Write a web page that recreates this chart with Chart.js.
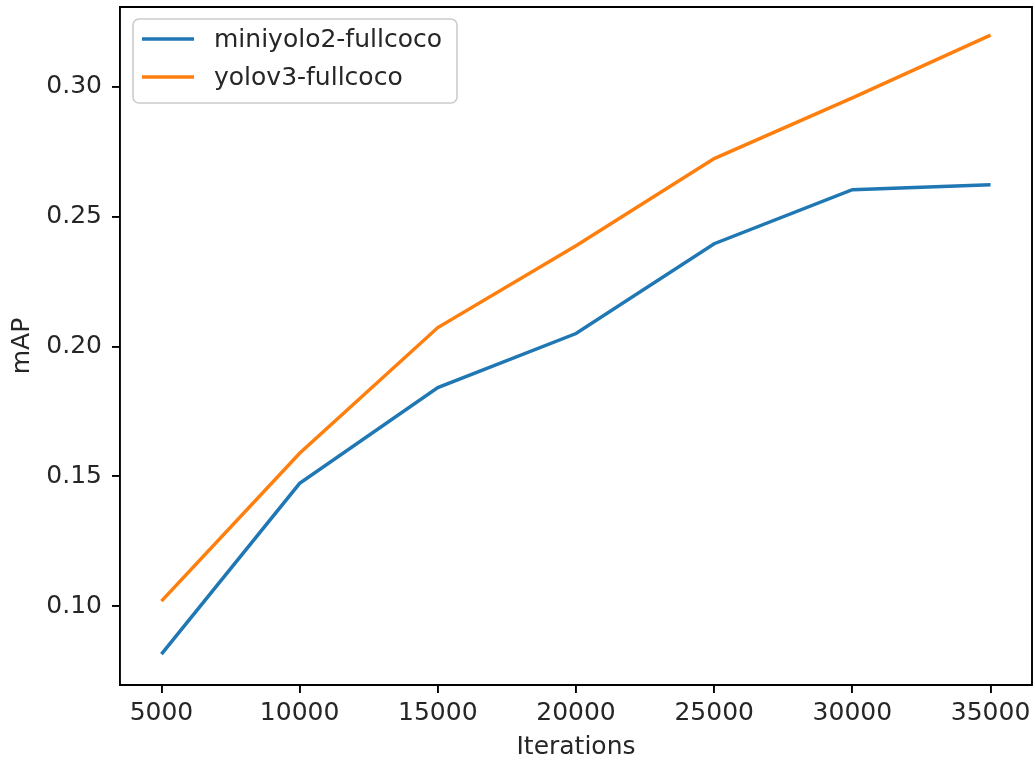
<!DOCTYPE html>
<html>
<head>
<meta charset="utf-8">
<script src="https://cdn.jsdelivr.net/npm/chart.js@4.4.0/dist/chart.umd.min.js"></script>
<style>
html,body{margin:0;padding:0;background:#fff;}
canvas{display:block;}
</style>
</head>
<body>
<canvas id="c" width="1035" height="762"></canvas>
<script>
const iterations = [5000, 10000, 15000, 20000, 25000, 30000, 35000];
const miniyolo2 = [0.0815, 0.1473, 0.1842, 0.2050, 0.2396, 0.2604, 0.2623];
const yolov3 = [0.1019, 0.1589, 0.2073, 0.2388, 0.2724, 0.2958, 0.3200];
const xTicks = [5000, 10000, 15000, 20000, 25000, 30000, 35000];
const yTicks = [0.10, 0.15, 0.20, 0.25, 0.30];
const seriesNames = ['miniyolo2-fullcoco', 'yolov3-fullcoco'];
const seriesColors = ['#1f77b4', '#ff7f0e'];

const FONT = 'DejaVu Sans';
const FS = 25;

const toPts = (xs, ys) => xs.map((x, i) => ({x: x, y: ys[i]}));

const framePlugin = {
  id: 'frame',
  afterDraw(chart) {
    const ca = chart.chartArea;
    const ctx = chart.ctx;
    ctx.save();
    ctx.strokeStyle = '#000';
    ctx.lineWidth = 1.9;
    ctx.beginPath();
    ctx.moveTo(ca.left, ca.top);
    ctx.lineTo(ca.right, ca.top);
    ctx.lineTo(ca.right, ca.bottom);
    ctx.stroke();
    ctx.restore();
  }
};

const legendPlugin = {
  id: 'mplLegend',
  afterDatasetsDraw(chart) {
    const ctx = chart.ctx;
    const ca = chart.chartArea;
    const x0 = ca.left + 13, y0 = ca.top + 12, w = 324, h = 84, r = 6;
    ctx.save();
    ctx.beginPath();
    ctx.moveTo(x0 + r, y0);
    ctx.lineTo(x0 + w - r, y0);
    ctx.arcTo(x0 + w, y0, x0 + w, y0 + r, r);
    ctx.lineTo(x0 + w, y0 + h - r);
    ctx.arcTo(x0 + w, y0 + h, x0 + w - r, y0 + h, r);
    ctx.lineTo(x0 + r, y0 + h);
    ctx.arcTo(x0, y0 + h, x0, y0 + h - r, r);
    ctx.lineTo(x0, y0 + r);
    ctx.arcTo(x0, y0, x0 + r, y0, r);
    ctx.closePath();
    ctx.fillStyle = 'rgba(255,255,255,0.8)';
    ctx.fill();
    ctx.strokeStyle = '#cccccc';
    ctx.lineWidth = 1.6;
    ctx.stroke();
    ctx.font = FS + 'px "' + FONT + '"';
    ctx.textBaseline = 'middle';
    ctx.textAlign = 'left';
    chart.data.datasets.forEach((ds, i) => {
      const yy = y0 + 20 + i * 38;
      ctx.strokeStyle = ds.borderColor;
      ctx.lineWidth = 3.5;
      ctx.beginPath();
      ctx.moveTo(x0 + 9, yy);
      ctx.lineTo(x0 + 61, yy);
      ctx.stroke();
      ctx.fillStyle = '#262626';
      ctx.fillText(ds.label, x0 + 81, yy + 1);
    });
    ctx.restore();
  }
};

new Chart(document.getElementById('c'), {
  type: 'line',
  data: {
    datasets: [
      {label: seriesNames[0], data: toPts(iterations, miniyolo2), borderColor: seriesColors[0], backgroundColor: seriesColors[0], borderWidth: 3.5, pointRadius: 0, tension: 0, fill: false},
      {label: seriesNames[1], data: toPts(iterations, yolov3), borderColor: seriesColors[1], backgroundColor: seriesColors[1], borderWidth: 3.5, pointRadius: 0, tension: 0, fill: false}
    ]
  },
  options: {
    responsive: false,
    animation: false,
    layout: {padding: {left: 0, right: 3, top: 7, bottom: 0}},
    plugins: {legend: {display: false}, tooltip: {enabled: false}},
    scales: {
      x: {
        type: 'linear',
        min: 3500,
        max: 36500,
        afterBuildTicks(s) { s.ticks = xTicks.map(v => ({value: v})); },
        afterFit(s) { s.height = 77; s.paddingLeft = 0; s.paddingRight = 0; },
        grid: {drawOnChartArea: false, drawTicks: true, tickLength: 8, color: '#000', lineWidth: 1.9},
        border: {display: true, color: '#000', width: 1.9},
        ticks: {color: '#262626', font: {family: FONT, size: FS}, padding: 5, maxRotation: 0, autoSkip: false, callback: v => String(v)},
        title: {display: true, text: 'Iterations', color: '#262626', font: {family: FONT, size: FS}, padding: {top: 0, bottom: 0}}
      },
      y: {
        type: 'linear',
        min: 0.0696,
        max: 0.3308,
        afterBuildTicks(s) { s.ticks = yTicks.map(v => ({value: v})); },
        afterFit(s) { s.width = 120; s.paddingTop = 0; s.paddingBottom = 0; },
        grid: {drawOnChartArea: false, drawTicks: true, tickLength: 8, color: '#000', lineWidth: 1.9},
        border: {display: true, color: '#000', width: 1.9},
        ticks: {color: '#262626', font: {family: FONT, size: FS}, padding: 10, autoSkip: false, callback: v => v.toFixed(2)},
        title: {display: true, text: 'mAP', color: '#262626', font: {family: FONT, size: FS}, padding: {top: 7, bottom: 0}}
      }
    }
  },
  plugins: [framePlugin, legendPlugin]
});
</script>
</body>
</html>
